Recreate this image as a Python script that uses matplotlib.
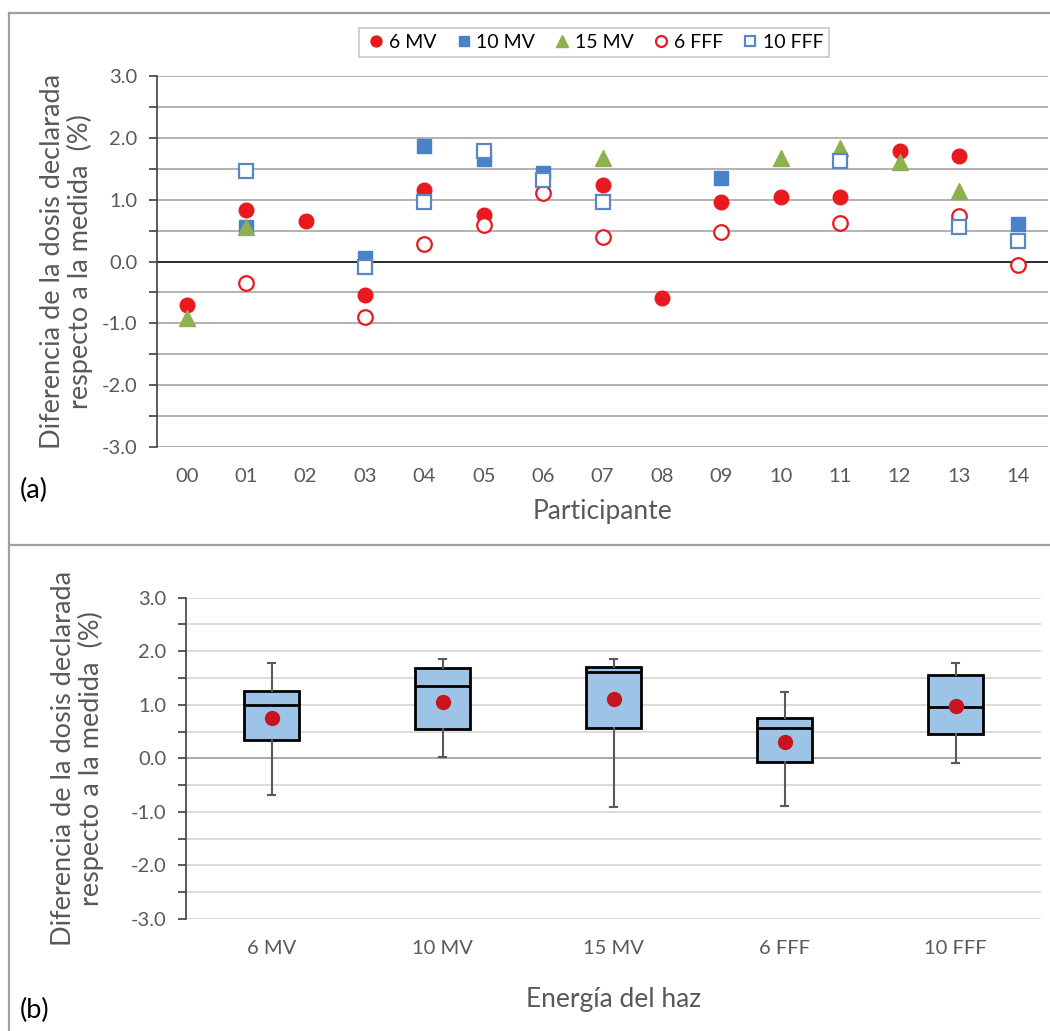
import numpy as np
import matplotlib
matplotlib.use("Agg")
import matplotlib.pyplot as plt
from matplotlib.lines import Line2D

plt.rcParams['font.family'] = ['Lato', 'DejaVu Sans']

nan = np.nan
participants = ["00", "01", "02", "03", "04", "05", "06", "07", "08", "09",
                "10", "11", "12", "13", "14"]
mv6 = [-0.70, 0.84, 0.65, -0.54, 1.15, 0.76, nan, 1.23, -0.59, 0.96, 1.04, 1.04, 1.78, 1.70, nan]
mv10 = [nan, 0.56, nan, 0.06, 1.86, 1.66, 1.43, nan, nan, 1.35, nan, nan, nan, nan, 0.60]
mv15 = [-0.92, 0.55, nan, nan, nan, nan, nan, 1.68, nan, nan, 1.67, 1.84, 1.61, 1.14, nan]
fff6 = [nan, -0.35, nan, -0.89, 0.28, 0.585, 1.11, 0.40, nan, 0.47, nan, 0.62, nan, 0.74, -0.05]
fff10 = [nan, 1.46, nan, -0.09, 0.96, 1.79, 1.32, 0.96, nan, nan, nan, 1.62, nan, 0.56, 0.33]

energies = ["6 MV", "10 MV", "15 MV", "6 FFF", "10 FFF"]
whisk_hi = [1.78, 1.86, 1.86, 1.23, 1.78]
q3 = [1.25, 1.68, 1.71, 0.76, 1.55]
medians = [1.00, 1.36, 1.62, 0.57, 0.955]
q1 = [0.34, 0.55, 0.57, -0.07, 0.45]
whisk_lo = [-0.69, 0.02, -0.91, -0.89, -0.09]
means = [0.75, 1.06, 1.10, 0.30, 0.98]

W, H = 1050, 1031
fig = plt.figure(figsize=(W / 100, H / 100), dpi=100)

def fx(px):
    return px / W

def fy(py):
    return 1 - py / H

tick_col = '#595959'
red = '#e8191f'
blue = '#4a82c9'
green = '#8fb04f'
sq_edge = '#5a87c4'

# frame lines
fig.add_artist(Line2D([fx(9), fx(9)], [fy(13), 0], color='#a0a0a0', lw=1.6))
fig.add_artist(Line2D([fx(9), 1], [fy(13), fy(13)], color='#a0a0a0', lw=1.6))
fig.add_artist(Line2D([fx(9), 1], [fy(545), fy(545)], color='#a0a0a0', lw=1.6))

ylab = "Diferencia de la dosis declarada\nrespecto a la medida  (%)"
ticks = np.arange(-3, 3.01, 0.5)
tlabels = [f"{v:.1f}" if abs(v - round(v)) < 1e-9 else "" for v in ticks]

# ---------- Panel (a) ----------
ax = fig.add_axes([fx(157), fy(447), fx(1048 - 157), (447 - 76) / H])
x = np.arange(len(participants))
ax.set_xlim(-0.5, len(participants) - 0.5)
ax.set_ylim(-3, 3)
ax.set_yticks(ticks)
ax.set_yticklabels(tlabels)
ax.yaxis.grid(True, color='#a6a6a6', lw=1.2)
ax.set_axisbelow(True)
ax.axhline(0, color='#222222', lw=1.3, zorder=1)
for s in ['top', 'right', 'bottom']:
    ax.spines[s].set_visible(False)
ax.spines['left'].set_color('#404040')
ax.spines['left'].set_linewidth(1.2)
ax.tick_params(axis='y', direction='out', length=6, width=1.2, color='#404040',
               labelsize=14.5, labelcolor=tick_col, pad=8)
ax.set_xticks(x)
ax.set_xticklabels(participants)
ax.tick_params(axis='x', length=0, labelsize=14.5, labelcolor=tick_col, pad=15)

ms = 10.5
h1, = ax.plot(x, mv6, 'o', ms=ms, color=red, mec=red, ls='none', label='6 MV', zorder=3)
h2, = ax.plot(x, mv10, 's', ms=ms - 0.5, color=blue, mec=blue, ls='none', label='10 MV', zorder=3)
h3, = ax.plot(x, mv15, '^', ms=ms + 0.5, color=green, mec=green, ls='none', label='15 MV', zorder=3)
h4, = ax.plot(x, fff6, 'o', ms=ms, mfc='white', mec=red, mew=1.6, ls='none', label='6 FFF', zorder=3)
h5, = ax.plot(x, fff10, 's', ms=ms - 0.5, mfc='white', mec=sq_edge, mew=1.6, ls='none', label='10 FFF', zorder=3)

ax.set_xlabel("Participante", fontsize=19, color=tick_col, labelpad=10)
ax.set_ylabel(ylab, fontsize=19.5, color=tick_col, linespacing=1.1)
ax.yaxis.set_label_coords((93 - 157) / (1048 - 157), 0.5)

leg = fig.legend(handles=[h1, h2, h3, h4, h5], loc='center',
                 bbox_to_anchor=(fx(594), fy(42.5)), ncol=5, fontsize=14,
                 frameon=True, fancybox=False, edgecolor='#bfbfbf',
                 handletextpad=0.05, columnspacing=0.8, handlelength=1.2,
                 borderpad=0.3, markerscale=0.75)
leg.get_frame().set_linewidth(1.3)

fig.text(fx(20), fy(490), "(a)", fontsize=19.5, color='black', va='center', ha='left')

# ---------- Panel (b) ----------
bx = fig.add_axes([fx(186), fy(919), fx(1041 - 186), (919 - 597.7) / H])
pos = np.arange(len(energies))
stats = []
for i, name in enumerate(energies):
    stats.append(dict(label=name, whislo=whisk_lo[i], q1=q1[i], med=medians[i],
                      q3=q3[i], whishi=whisk_hi[i], mean=means[i], fliers=[]))
bx.bxp(stats, positions=pos, widths=0.32, capwidths=0.04, showmeans=True,
       patch_artist=True,
       boxprops=dict(facecolor='#9dc3e6', edgecolor='black', linewidth=2.0),
       medianprops=dict(color='black', linewidth=2.0),
       whiskerprops=dict(color='#595959', linewidth=1.5),
       capprops=dict(color='#595959', linewidth=1.5),
       meanprops=dict(marker='o', markerfacecolor='#c8141e', markeredgecolor='#c8141e',
                      markersize=10),
       zorder=3)
bx.set_xlim(-0.5, len(energies) - 0.5)
bx.set_ylim(-3, 3)
bx.set_yticks(ticks)
bx.set_yticklabels(tlabels)
bx.yaxis.grid(True, color='#d9d9d9', lw=1.3)
bx.set_axisbelow(True)
bx.axhline(0, color='#a6a6a6', lw=1.3, zorder=1)
for s in ['top', 'right', 'bottom']:
    bx.spines[s].set_visible(False)
bx.spines['left'].set_color('#404040')
bx.spines['left'].set_linewidth(1.2)
bx.tick_params(axis='y', direction='out', length=6, width=1.2, color='#404040',
               labelsize=14.5, labelcolor=tick_col, pad=8)
bx.set_xticks(pos)
bx.set_xticklabels(energies)
bx.tick_params(axis='x', length=0, labelsize=14.5, labelcolor=tick_col, pad=15)
bx.set_xlabel("Energía del haz", fontsize=19, color=tick_col, labelpad=22)
bx.set_ylabel(ylab, fontsize=19.5, color=tick_col, linespacing=1.1)
bx.yaxis.set_label_coords((104 - 186) / (1041 - 186), 0.5)

fig.text(fx(20), fy(1010), "(b)", fontsize=19.5, color='black', va='center', ha='left')

fig.savefig("out.png", dpi=100, facecolor='white')
